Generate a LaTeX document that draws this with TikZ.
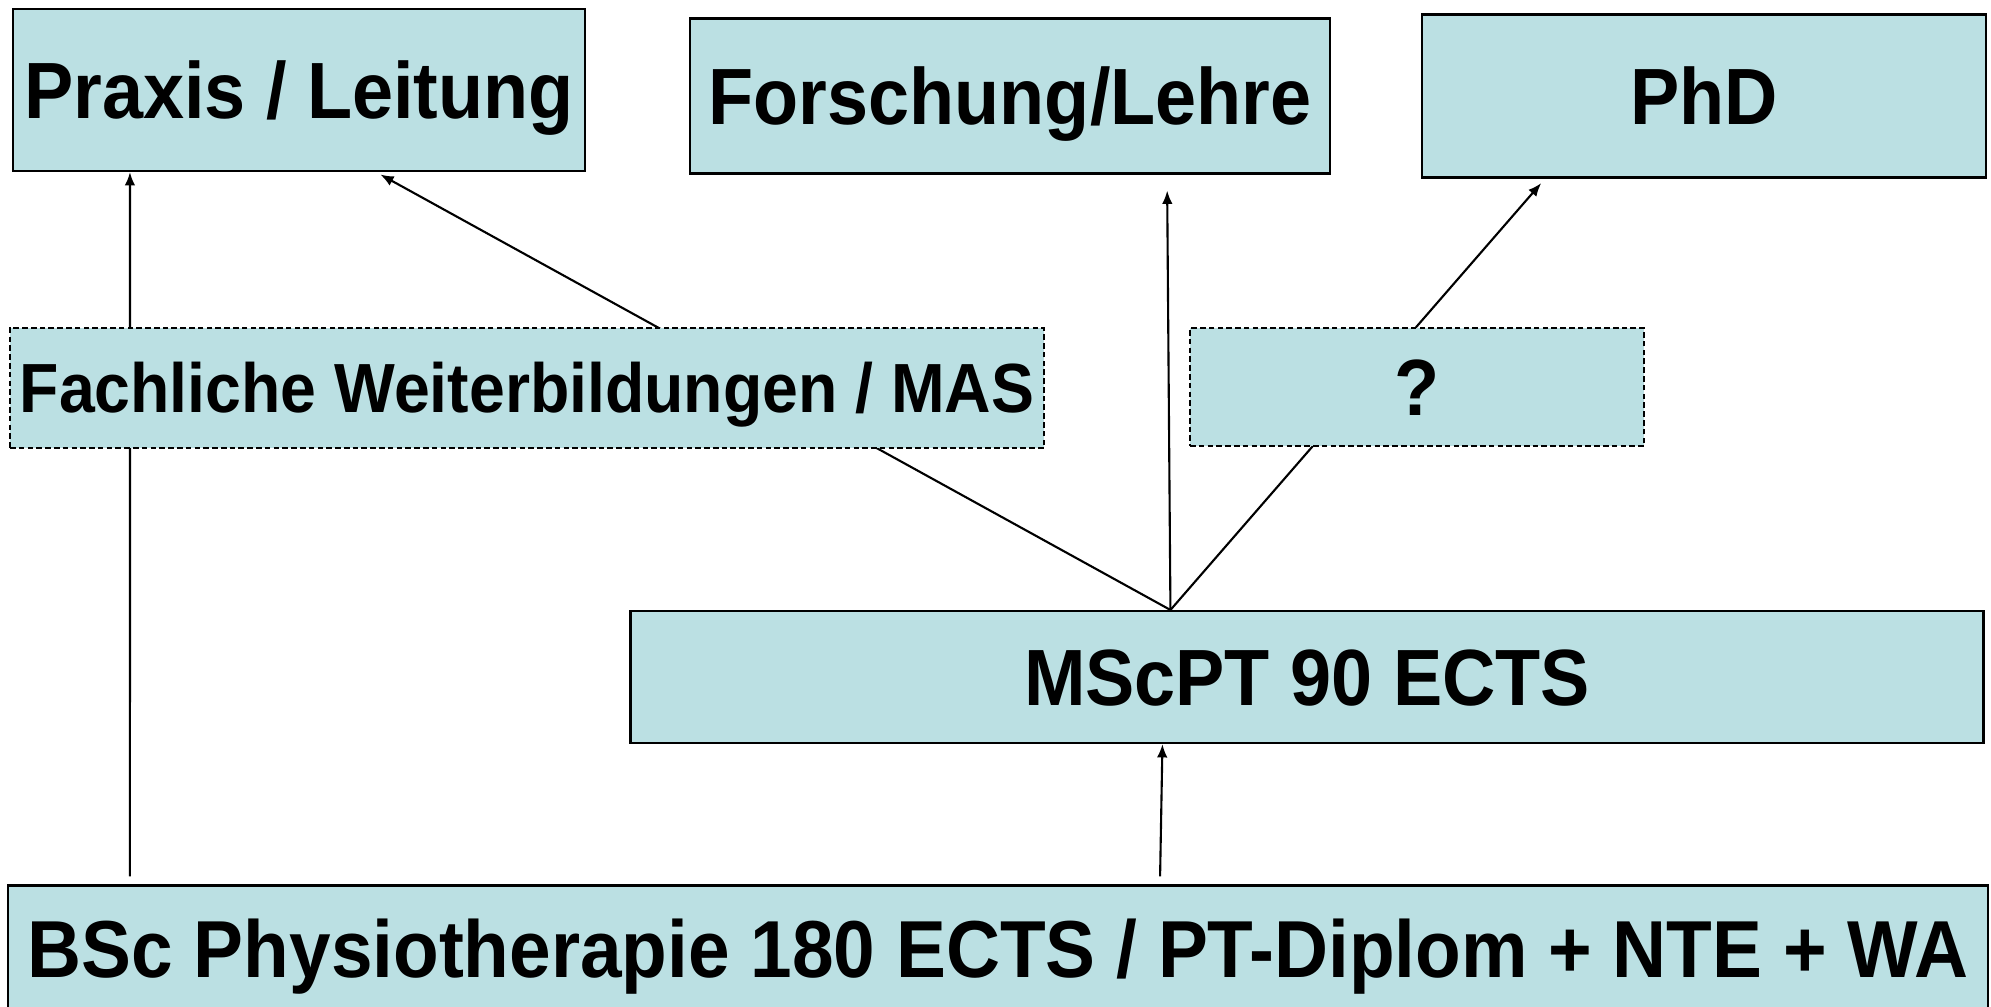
\documentclass[tikz,border=0pt]{standalone}
\usepackage{fontspec}
\setmainfont{Liberation Sans}[FakeStretch=0.925]
\usetikzlibrary{positioning}
\usetikzlibrary{arrows.meta}
\usetikzlibrary{backgrounds}
\definecolor{boxblue}{RGB}{187,224,227}
\tikzset{
  stufe/.style={draw, line width=0.6pt, fill=boxblue, inner sep=0pt,
    font=\bfseries\fontsize{22.7}{26}\selectfont, text centered,
    text height=16.3pt, text depth=0pt},
  option/.style={stufe, dash pattern=on 1.6pt off 0.9pt},
  weg/.style={-{Latex[length=3.8pt,width=3pt]}, line width=0.6pt}
}
\begin{document}
\begin{tikzpicture}
        \useasboundingbox (0,0) rectangle (19.91,-10.06);
        % nodes %
        \node[stufe, minimum width=5.72cm, minimum height=1.62cm] (praxis) at (2.99,-0.90) {Praxis / Leitung};
        \node[stufe, right=1.03 of praxis, minimum width=6.40cm, minimum height=1.55cm, yshift=-0.06cm] (forschung) {Forschung/Lehre};
        \node[stufe, right=0.90 of forschung, minimum width=5.64cm, minimum height=1.63cm] (phd) {PhD};
        \node[option, minimum width=10.34cm, minimum height=1.20cm, font=\bfseries\fontsize{19.8}{23}\selectfont, text height=14.2pt] (weiterbildung) at (5.27,-3.88) {Fachliche Weiterbildungen / MAS};
        \node[option, minimum width=4.54cm, minimum height=1.18cm] (frage) at (14.17,-3.87) {?};
        \node[stufe, minimum width=13.53cm, minimum height=1.32cm] (mscpt) at (13.07,-6.77) {MScPT 90 ECTS};
        \node[stufe, minimum width=19.80cm, minimum height=1.27cm, font=\bfseries\fontsize{23}{26}\selectfont] (bsc) at (9.98,-9.49) {BSc Physiotherapie 180 ECTS / PT-Diplom + NTE + WA};
        % edges %
        \begin{scope}[on background layer]
        \draw[weg, shorten <=0.08cm] ([xshift=1.23cm]bsc.north west) -- ([xshift=1.18cm]praxis.south west);
        \draw[weg, shorten <=0.08cm] ([xshift=11.53cm]bsc.north west) -- ([xshift=5.33cm]mscpt.south west);
        \draw[weg, shorten >=0.05cm] ([xshift=5.41cm]mscpt.north west) -- ([xshift=3.64cm]praxis.south west);
        \draw[weg, shorten >=0.16cm] ([xshift=5.41cm]mscpt.north west) -- ([xshift=4.78cm]forschung.south west);
        \draw[weg, shorten >=0.06cm] ([xshift=5.41cm]mscpt.north west) -- ([xshift=1.24cm]phd.south west);
        \end{scope}
\end{tikzpicture}
\end{document}
